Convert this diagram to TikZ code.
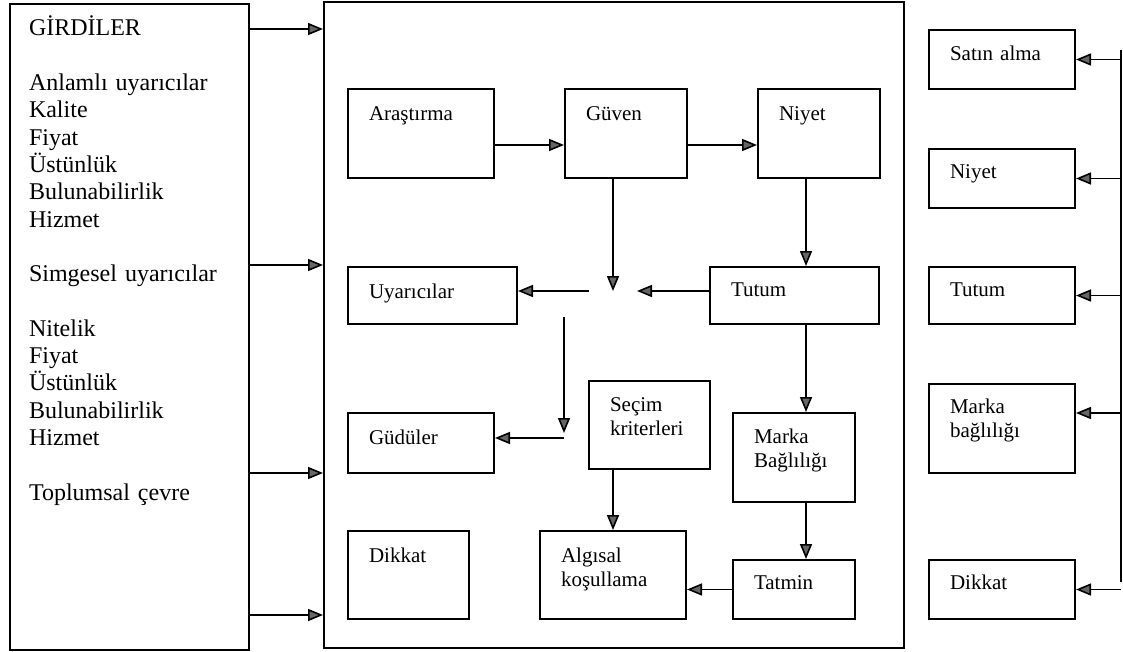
\documentclass[tikz,border=0pt]{standalone}
\usepackage{fontspec}
\setmainfont{Liberation Serif}
\usetikzlibrary{arrows.meta}
\newcommand{\boxfont}{\fontsize{21}{24.5}\selectfont}
\newcommand{\listfont}{\fontsize{24}{27.3}\selectfont}

\begin{document}
\begin{tikzpicture}[
    x=1pt, y=-1pt,
    panel/.style={draw, line width=2pt, anchor=north west, inner xsep=21pt, inner ysep=0pt, align=left, font=\boxfont},
    link/.style={line width=1.6pt, -{Triangle[length=15pt,width=12pt,fill=black!60]}}
  ]
  \useasboundingbox (0,0) rectangle (1123,652);

  % Inputs
  \node[panel, font=\listfont, inner xsep=19pt, text width=201pt, text height=32pt, text depth=614pt] (girdi) at (9,3) {
    GİRDİLER\\[27.3pt]
    Anlamlı uyarıcılar\\ Kalite\\ Fiyat\\ Üstünlük\\ Bulunabilirlik\\ Hizmet\\[27.3pt]
    Simgesel uyarıcılar\\[27.3pt]
    Nitelik\\ Fiyat\\ Üstünlük\\ Bulunabilirlik\\ Hizmet\\[27.3pt]
    Toplumsal çevre
  };

  % Processing frame
  \node[draw, line width=2pt, anchor=north west, minimum width=580pt, minimum height=646pt, inner sep=0pt] (core) at (323,1) {};

  \node[panel, text width=104pt, text height=32pt, text depth=57pt] (arastirma) at (347,88) {Araştırma};
  \node[panel, text width=80pt, text height=32pt, text depth=57pt] (guven) at (564,88) {Güven};
  \node[panel, text width=80pt, text height=32pt, text depth=57pt] (niyet) at (757,88) {Niyet};
  \node[panel, text width=127pt, text height=31pt, text depth=26pt] (uyarici) at (347,266) {Uyarıcılar};
  \node[panel, text width=127pt, text height=29pt, text depth=28pt] (tutum) at (709,266) {Tutum};
  \node[panel, text width=104pt, text height=31pt, text depth=29pt] (gudu) at (347,412) {Güdüler};
  \node[panel, text width=79pt, text height=30pt, text depth=58pt] (secim) at (588,380) {Seçim\\kriterleri};
  \node[panel, text width=80pt, text height=30pt, text depth=59pt] (marka) at (732,412) {Marka\\Bağlılığı};
  \node[panel, text width=79pt, text height=31pt, text depth=57pt] (dikkat) at (347,530) {Dikkat};
  \node[panel, text width=104pt, text height=31pt, text depth=57pt] (algisal) at (539,530) {Algısal\\koşullama};
  \node[panel, text width=80pt, text height=29pt, text depth=30pt] (tatmin) at (732,559) {Tatmin};

  % Outputs
  \node[panel, text width=104pt, text height=31pt, text depth=28pt] (satin) at (928,29) {Satın alma};
  \node[panel, text width=104pt, text height=30pt, text depth=29pt] (niyet2) at (928,148) {Niyet};
  \node[panel, text width=104pt, text height=29pt, text depth=28pt] (tutum2) at (928,266) {Tutum};
  \node[panel, text width=104pt, text height=29pt, text depth=60pt] (marka2) at (928,383) {Marka\\bağlılığı};
  \node[panel, text width=104pt, text height=29pt, text depth=30pt] (dikkat2) at (928,559) {Dikkat};

  \coordinate (col) at (613,0);
  \coordinate (spine) at (806,0);
  \coordinate (bus) at (1121,0);
  \coordinate (hub) at (613,291);
  \coordinate (drop) at (564,317);
  \coordinate (turn) at (564,438);

  % Connectors
  \foreach \y in {29,265,473,615}
    \draw[link] (girdi.east |- 0,\y) -- (core.west |- 0,\y);

  \draw[link] (arastirma.east |- 0,145) -- (guven.west |- 0,145);
  \draw[link] (guven.east |- 0,145) -- (niyet.west |- 0,145);
  \draw[link] (niyet.south -| spine) -- (tutum.north -| spine);
  \draw[link] (tutum.south -| spine) -- (marka.north -| spine);
  \draw[link] (marka.south -| spine) -- (tatmin.north -| spine);
  \draw[link] (guven.south -| col) -- (hub);
  \draw[link] (tutum.west |- hub) -- ([xshift=24pt]hub);
  \draw[link] ([xshift=-24pt]hub) -- (uyarici.east |- hub);
  \draw[link] (drop) -- ([yshift=5pt]turn);
  \draw[link] (turn) -- (gudu.east |- turn);
  \draw[link] (secim.south -| col) -- (algisal.north -| col);
  \draw[link] (tatmin.west) -- (tatmin.west -| algisal.east);

  \draw[line width=1.8pt] (bus |- 0,50) -- (bus |- 0,582);
  \foreach \n in {satin,niyet2,tutum2,dikkat2}
    \draw[link] (bus |- \n.east) -- (\n.east);
  \draw[link] (bus |- 0,413) -- (marka2.east |- 0,413);
\end{tikzpicture}
\end{document}
